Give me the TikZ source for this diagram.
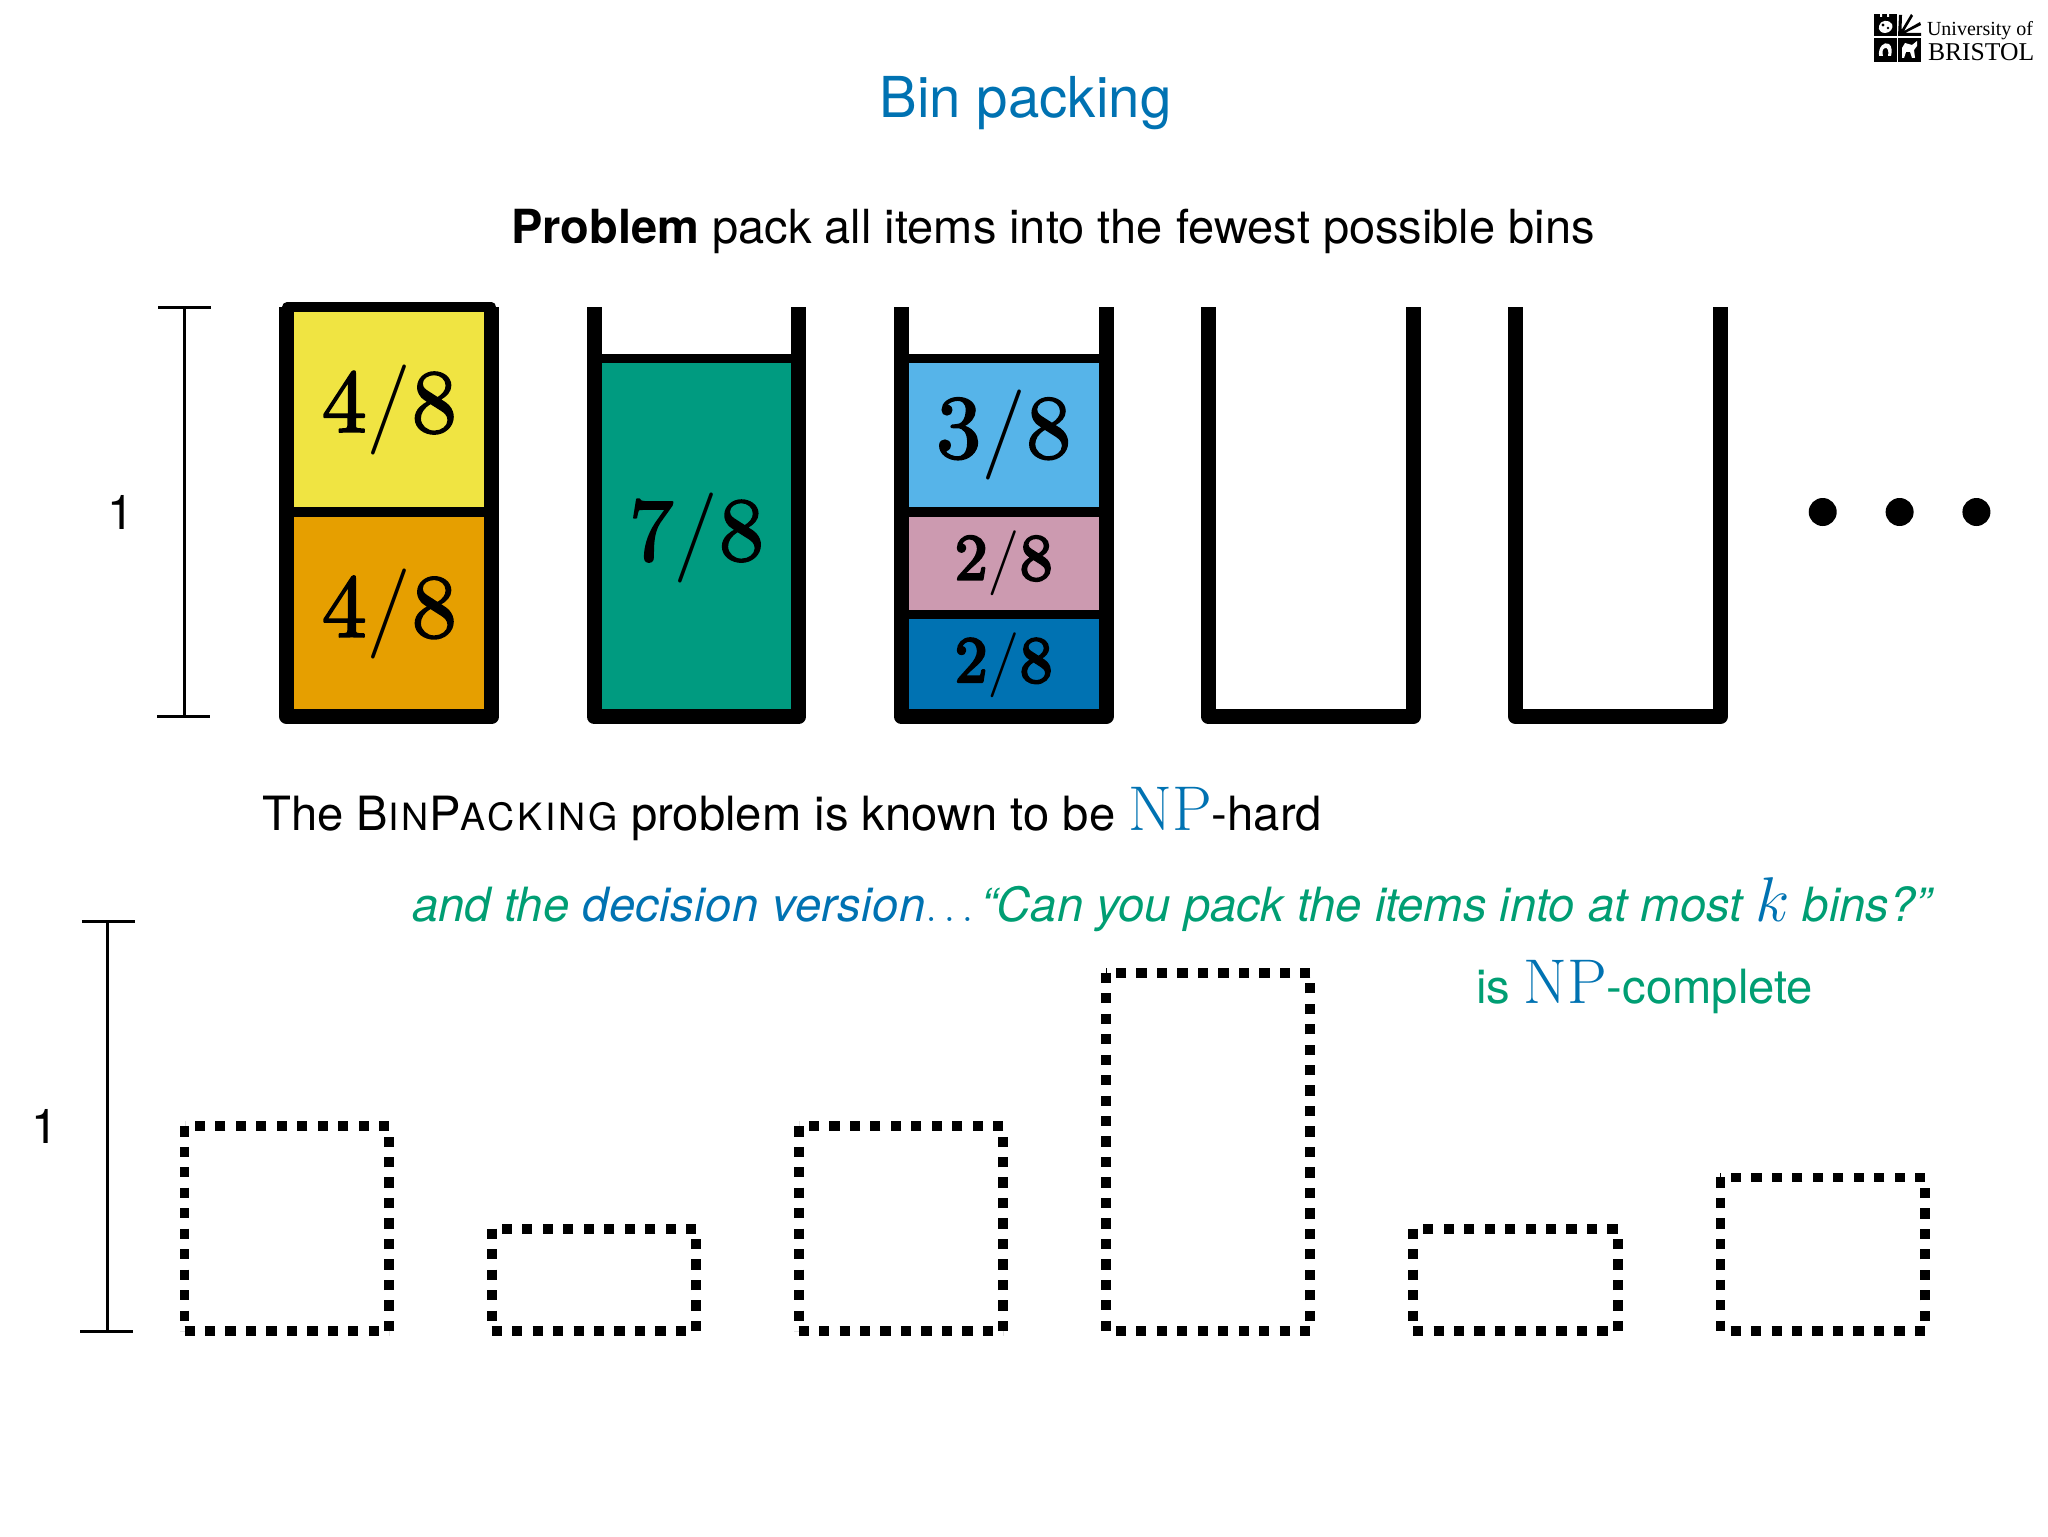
\documentclass[tikz,border=0pt]{standalone}
\usepackage{graphicx}
\usepackage[no-math]{fontspec}
\setmainfont{TeX Gyre Heros}
\newfontfamily\logoserif{Liberation Serif}
\newfontfamily\fracthin{Latin Modern Roman}
\newfontfamily\fracbold[FakeBold=2]{Latin Modern Roman}
\newfontfamily\fracbolder[FakeBold=4]{Latin Modern Roman}
\definecolor{cblue}{HTML}{0072B2}
\definecolor{cgreen}{HTML}{009E73}
\definecolor{cteal}{HTML}{009B80}
\definecolor{cyellow}{HTML}{F0E442}
\definecolor{corange}{HTML}{E69F00}
\definecolor{csky}{HTML}{56B4E9}
\definecolor{cpink}{HTML}{CC9AB0}
\newcommand{\bigfrac}[2]{\scalebox{4.5}{\fontsize{10}{12}\selectfont\fracbold #1\fracthin /\fracbold #2}}
\newcommand{\smallfrac}[2]{\scalebox{3.25}{\fontsize{10}{12}\selectfont\fracbolder #1\fracthin /\fracbolder #2}}
\newcommand{\npsym}{\textcolor{cblue}{\scalebox{1.27}{$\mathrm{NP}$}}}
\newcommand{\kvar}{\textcolor{cblue}{\scalebox{1.27}{$k$}}}
\newcommand{\capsmall}[1]{{\fontsize{18.8}{20}\selectfont\addfontfeature{LetterSpace=8}#1}}
\newcommand{\dashedbox}[3]{%
  \draw[dashbin] (#1,#2) -- (#1,#3);
  \draw[dashbin,dash phase={(#3-#2)*0.5pt}] (#1,#3) -- (#1+204.7,#3);
  \draw[dashbin,dash phase={(#3-#2+204.7)*0.5pt}] (#1+204.7,#3) -- (#1+204.7,#2+0.6);
  \draw[dashbin,dash phase={(2*(#3-#2)+204.7)*0.5pt}] (#1+204.7,#2) -- (#1,#2);
}
\tikzset{
  cellbox/.style={draw=black,line width=4.65pt,line join=round,minimum width=102.35pt,inner sep=0pt,outer sep=0pt,text=black},
  binwall/.style={draw=black,line width=7.5pt,line join=round,line cap=butt},
  dashbin/.style={draw=black,line width=4.9pt,dash pattern=on 5.1175pt off 5.1175pt,line cap=butt},
  scalebar/.style={draw=black,line width=1.5pt},
  bodytext/.style={inner sep=0pt,outer sep=0pt,anchor=base,font=\fontsize{23.6}{28}\selectfont},
  labeltext/.style={inner sep=0pt,outer sep=0pt,anchor=center,font=\fontsize{24}{28}\selectfont},
  logotext/.style={inner sep=0pt,outer sep=0pt,anchor=base west},
}
\begin{document}
\begin{tikzpicture}[x=.5pt,y=-.5pt]
\useasboundingbox (0,0) rectangle (2048,1536);
% logo
\fill[black] (1874,14) rectangle (1921,62);
\fill[white] (1897,14) rectangle (1921,35.5);
\fill[white] (1896.5,14) rectangle (1898,62);
\fill[white] (1874,36.5) rectangle (1921,37.8);
\fill[black] (1898,36) -- (1899,15) -- (1902,15) -- (1901.5,30) -- (1911,14) -- (1913,16) -- (1904,31) -- (1920,22) -- (1921,25) -- (1905,33) -- (1921,33) -- (1921,36) -- cycle;
\fill[white] (1880,14) rectangle (1882,17) (1887,14) rectangle (1889,17);
\fill[white] (1879,26) .. controls (1880,20) and (1889,19) .. (1892,24) .. controls (1894,28) and (1890,33) .. (1885,33) .. controls (1881,33) and (1878,30) .. (1879,26) -- cycle;
\fill[black] (1883,25) circle (1.6) (1888,28) circle (1.4);
\fill[white] (1879,56) .. controls (1878,47) and (1884,41) .. (1889,44) .. controls (1892,46) and (1892,52) .. (1891,56) -- (1888,56) .. controls (1889,52) and (1888,47) .. (1885,48) .. controls (1882,49) and (1882,53) .. (1883,56) -- cycle;
\fill[white] (1902,48) -- (1905,43) -- (1912,45) -- (1917,41) -- (1917,46) -- (1914,50) -- (1915,58) -- (1912,58) -- (1910,52) -- (1906,52) -- (1904,58) -- (1902,58) -- cycle;
\node[logotext,font=\logoserif\fontsize{10}{12}\selectfont] (unilogo) at (1927,36) {University of};
\node[logotext,font=\logoserif\fontsize{12.8}{14}\selectfont] (bristollogo) at (1928,61) {BRISTOL};
% title and text
\node[bodytext,font=\fontsize{28.2}{32}\selectfont,text=cblue] (title) at (1025.5,117.7) {Bin packing};
\node[bodytext,font=\fontsize{23.5}{28}\selectfont] (problem) at (1053,243.5) {\textbf{Problem} pack all items into the fewest possible bins};
\node[bodytext,anchor=base west] (hard) at (262.5,830) {The B\capsmall{IN}P\capsmall{ACKING} problem is known to be \npsym-hard};
\node[bodytext,anchor=base west,text=cgreen] (decision) at (412.5,921.7) {\itshape and the \textcolor{cblue}{{\addfontfeature{LetterSpace=1}decision version}\scalebox{.83}{$\ldots$}}\,``Can you pack the items into at most \kvar\ bins?''};
\node[bodytext,anchor=base west,text=cgreen] (complete) at (1476,1003) {is \npsym-complete};
% items
\node[cellbox,fill=cyellow,minimum height=102.5pt] (i1) at (389.25,409.5) {\bigfrac{4}{8}};
\node[cellbox,fill=corange,minimum height=102.35pt] (i2) at (389.25,614.35) {\bigfrac{4}{8}};
\node[cellbox,fill=cteal,minimum height=179.15pt] (i3) at (696.45,537.55) {\bigfrac{7}{8}};
\node[cellbox,fill=csky,minimum height=76.8pt] (i4) at (1003.65,435.2) {\bigfrac{3}{8}};
\node[cellbox,fill=cpink,minimum height=51.15pt] (i5) at (1003.65,563.15) {\smallfrac{2}{8}};
\node[cellbox,fill=cblue,minimum height=51.2pt] (i6) at (1003.65,665.5) {\smallfrac{2}{8}};
% bins
\foreach \bx in {286.9,594.1,901.3,1208.5,1515.7}
  \draw[binwall] (\bx,307) -- (\bx,716.7) -- (\bx+204.7,716.7) -- (\bx+204.7,307);
% dots
\foreach \dx in {1822.7,1899.6,1976.4}
  \fill[black] (\dx,512) circle (14);
% top scale
\coordinate (ta) at (184,307);
\coordinate (tb) at (184,716.7);
\draw[scalebar] (ta) -- (tb);
\draw[scalebar] (158.4,307) -- (211,307);
\draw[scalebar] (157.4,716.7) -- (210,716.7);
\node[labeltext] (one) at (121,512) {1};
% bottom scale
\coordinate (ba) at (107.7,921.7);
\coordinate (bb) at (107.7,1331);
\draw[scalebar] (ba) -- (bb);
\draw[scalebar] (81.8,921.7) -- (134.5,921.7);
\draw[scalebar] (80.4,1331) -- (133,1331);
\node[labeltext] (two) at (45,1126) {1};
% dashed items
\dashedbox{184.5}{1126.3}{1331}
\dashedbox{491.6}{1228.7}{1331}
\dashedbox{798.6}{1126.3}{1331}
\dashedbox{1105.6}{972.7}{1331}
\dashedbox{1413}{1228.7}{1331}
\dashedbox{1720.4}{1177.4}{1331}
\end{tikzpicture}
\end{document}
